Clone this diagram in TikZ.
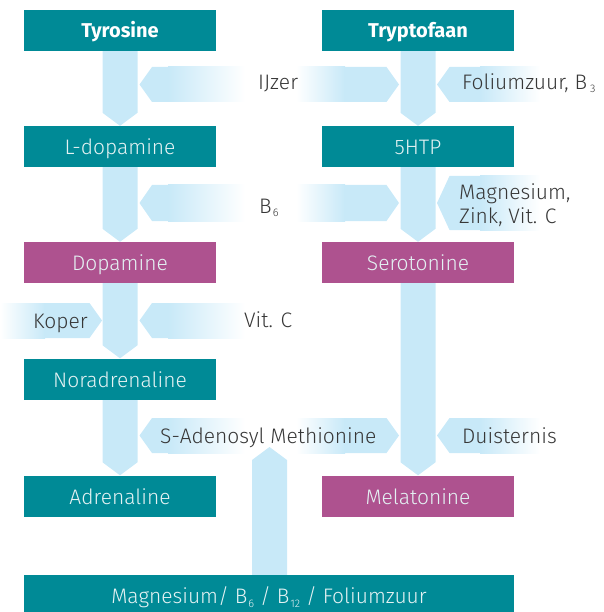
\documentclass[tikz,border=0pt]{standalone}
\usepackage{fontspec}
\setmainfont{Fira Sans Light}[BoldFont={Fira Sans Bold}]
\usetikzlibrary{calc}
\pgfdeclarelayer{bg}
\pgfsetlayers{bg,main}
\definecolor{tealA}{RGB}{0,138,150}
\definecolor{magA}{RGB}{174,82,143}
\definecolor{lb}{RGB}{200,233,248}
\definecolor{lbl}{RGB}{55,55,55}
\definecolor{boxtxt}{RGB}{228,242,243}
\newcommand{\bsub}[1]{\kern1pt\raisebox{-4pt}{\fontsize{11}{11}\selectfont #1}}
\newcommand{\flowL}[5]{%
  \fill[lb] (#1,{(#2+#3)/2}) -- ({#1+12.5},#2) -- ({#4+0.5},#2) -- ({#4+0.5},#3) -- ({#1+12.5},#3) -- cycle;
  \shade[left color=lb,right color=white] (#4,#2) rectangle (#5,#3);}
\newcommand{\flowR}[5]{%
  \shade[left color=white,right color=lb] (#1,#4) rectangle (#2,#5);
  \fill[lb] ({#2-0.5},#4) -- ({#3-12.5},#4) -- (#3,{(#4+#5)/2}) -- ({#3-12.5},#5) -- ({#2-0.5},#5) -- cycle;}
\newcommand{\vflow}[2]{%
  \path[fill=lb] let \p1=(#1.south), \p2=(#2.north) in
    (\x1-17.5pt,\y1) -- (\x1+17.5pt,\y1) -- (\x1+17.5pt,\y2+13pt) -- (\x1,\y2) -- (\x1-17.5pt,\y2+13pt) -- cycle;}
\begin{document}
\begin{tikzpicture}[x=1pt,y=-1pt,
  box/.style={draw=none, minimum width=192pt, minimum height=41pt, inner sep=0pt,
    text height=16pt, text depth=0pt, text=boxtxt, font=\fontsize{21}{21}\selectfont},
  tealbox/.style={box, fill=tealA},
  magbox/.style={box, fill=magA},
  headbox/.style={tealbox, text=white, text height=15pt, font=\bfseries\fontsize{20}{20}\selectfont},
  lab/.style={text=lbl, font=\fontsize{21}{21}\selectfont, inner sep=0pt, anchor=base west}]
\useasboundingbox (0,0) rectangle (603,612);

% boxes
\node[headbox] (tyr) at (120,30.5) {Tyrosine};
\node[headbox] (try) at (418,30.5) {Tryptofaan};
\node[tealbox] (ldo) at (120,146.5) {L-dopamine};
\node[tealbox] (htp) at (418,146.5) {5HTP};
\node[magbox] (dop) at (120,262.5) {Dopamine};
\node[magbox] (ser) at (418,262.5) {Serotonine};
\node[tealbox] (nor) at (120,379) {Noradrenaline};
\node[tealbox] (adr) at (120,496) {Adrenaline};
\node[magbox] (mel) at (418,496) {Melatonine};
\node[tealbox, minimum width=490pt] (mgb) at (269,595.5) {Magnesium/ B\bsub{6} / B\bsub{12} / Foliumzuur};

% labels
\node[lab] (lij) at (258,90) {IJzer};
\node[lab] (lfo) at (462,89.5) {Foliumzuur, B\kern3pt\raisebox{-3pt}{\fontsize{11}{11}\selectfont 3}};
\node[lab] (lb6) at (259,213) {B\bsub{6}};
\node[lab] (lmg) at (459,199.5) {Magnesium,};
\node[lab] (lzn) at (459,223) {Zink, Vit. C};
\node[lab] (lko) at (33,328) {Koper};
\node[lab] (lvc) at (244,327.5) {Vit. C};
\node[lab] (lsa) at (160,443) {S-Adenosyl Methionine};
\node[lab] (ldu) at (462,443) {Duisternis};

\coordinate (samtip) at (269.5,447);

\begin{pgfonlayer}{bg}
  % horizontal flows
  \flowL{139.5}{67}{102}{168}{245}
  \flowR{296}{345}{399}{67}{102}
  \flowL{437}{67}{102}{480}{540}
  \flowL{139.5}{185}{221}{168}{245}
  \flowR{296}{345}{399}{185}{221}
  \flowL{437}{176}{230}{480}{540}
  \flowR{0}{45}{102}{303}{338}
  \flowL{139.5}{303}{338}{168}{245}
  \flowL{139.5}{418}{453}{168}{245}
  \flowR{296}{345}{399}{418}{453}
  \flowL{437}{418}{453}{480}{540}
  % vertical flows
  \vflow{tyr}{ldo}
  \vflow{ldo}{dop}
  \vflow{dop}{nor}
  \vflow{nor}{adr}
  \vflow{try}{htp}
  \vflow{htp}{ser}
  \vflow{ser}{mel}
  \path[fill=lb] let \p1=(mgb.north), \p2=(samtip) in
    (\x2-17.5pt,\y1) -- (\x2+17.5pt,\y1) -- (\x2+17.5pt,\y2-13pt) -- (\x2,\y2) -- (\x2-17.5pt,\y2-13pt) -- cycle;
\end{pgfonlayer}
\end{tikzpicture}
\end{document}
